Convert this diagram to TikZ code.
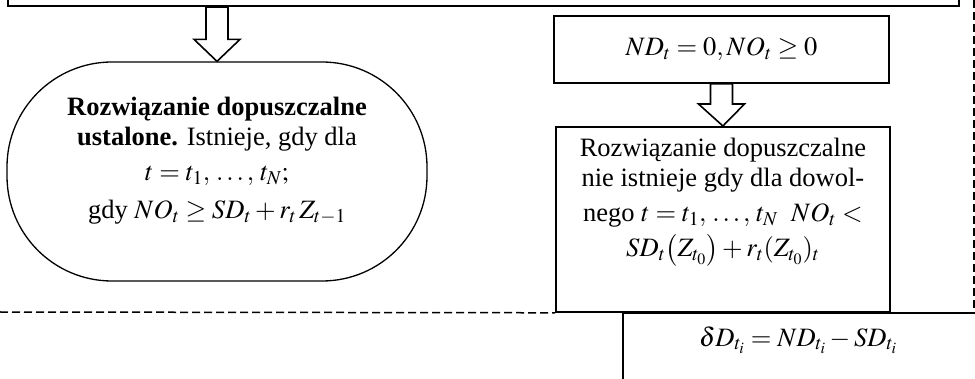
\documentclass[tikz,border=0pt]{standalone}
\usepackage{mathptmx}
\usepackage{fontspec}
\setmainfont{Liberation Serif}
\usetikzlibrary{calc}

% hollow block arrow from the first point down to the second
\newcommand\blockarrow[2]{%
  \draw[blockarr] let \p1=(#1), \p2=(#2) in
    (\x1-11pt,\y1) -- (\x1+11pt,\y1) -- (\x1+11pt,\y2+22pt) -- (\x1+23pt,\y2+22pt)
    -- (\x2,\y2) -- (\x1-23pt,\y2+22pt) -- (\x1-11pt,\y2+22pt) -- cycle;}

\begin{document}
\begin{tikzpicture}[x=1pt,y=-1pt,
  box/.style={draw, line width=1.8pt, inner sep=0pt},
  txt/.style={font=\fontsize{26.5}{32}\selectfont, align=center, inner sep=0pt},
  blockarr/.style={draw, line width=1.6pt, fill=white, line join=miter},
  sep/.style={draw, line width=1.5pt, dash pattern=on 8pt off 4pt},
  terminal/.style={draw, line width=1.3pt, rounded corners=105pt, inner sep=0pt}]
\useasboundingbox (0,0) rectangle (975,379);
\clip (0,0) rectangle (975,379);

% upper frame, only its lower edge is in view
\node[box, minimum width=951pt, minimum height=60pt, anchor=south west] (head) at (7,7) {};

% left branch: feasible solution
\node[terminal, txt, minimum width=420pt, minimum height=219pt] (fix) at (217,171.5)
  {\textbf{Rozwiązanie dopuszczalne}\\[-2pt]
   \textbf{ustalone.} Istnieje, gdy dla\\[3pt]
   $t=t_1,\,\ldots,\,t_N;$\\[6pt]
   gdy $NO_t\geq SD_t+r_t\,Z_{t-1}$\\[-5pt]\mbox{}};

% right branch
\node[box, txt, minimum width=335pt, minimum height=67pt] (cond) at (721.5,49.5)
  {$ND_t=0,NO_t\geq 0$};
\node[box, minimum width=334pt, minimum height=185pt, anchor=north west] (neg) at (555,126) {};
\node[txt, anchor=north] (negtxt) at ($(neg.north)+(0,12)$)
  {Rozwiązanie dopuszczalne\\[-2pt]
   nie istnieje gdy dla dowol-\\[3pt]
   nego $t=t_1,\,\ldots,\,t_N\ \ NO_t<$\\[3pt]
   $SD_t\bigl(Z_{t_0}\bigr)+r_t(Z_{t_0})_t$};

% lower block
\node[box, minimum width=360pt, minimum height=120pt, anchor=north west] (dbox) at (622,312) {};
\node[txt] (dtxt) at (798,340) {$\delta D_{t_i}=ND_{t_i}-SD_{t_i}$};

% block arrows
\coordinate (a1) at (fix.north |- head.south);
\blockarrow{a1}{fix.north}
\blockarrow{cond.south}{neg.north}

% dashed separators
\coordinate (le) at (0,312);
\coordinate (rt) at (974,0);
\coordinate (rb) at (974,312);
\draw[sep] (le) -- (neg.south west);
\draw[sep] (rt) -- (rb);
\end{tikzpicture}
\end{document}
